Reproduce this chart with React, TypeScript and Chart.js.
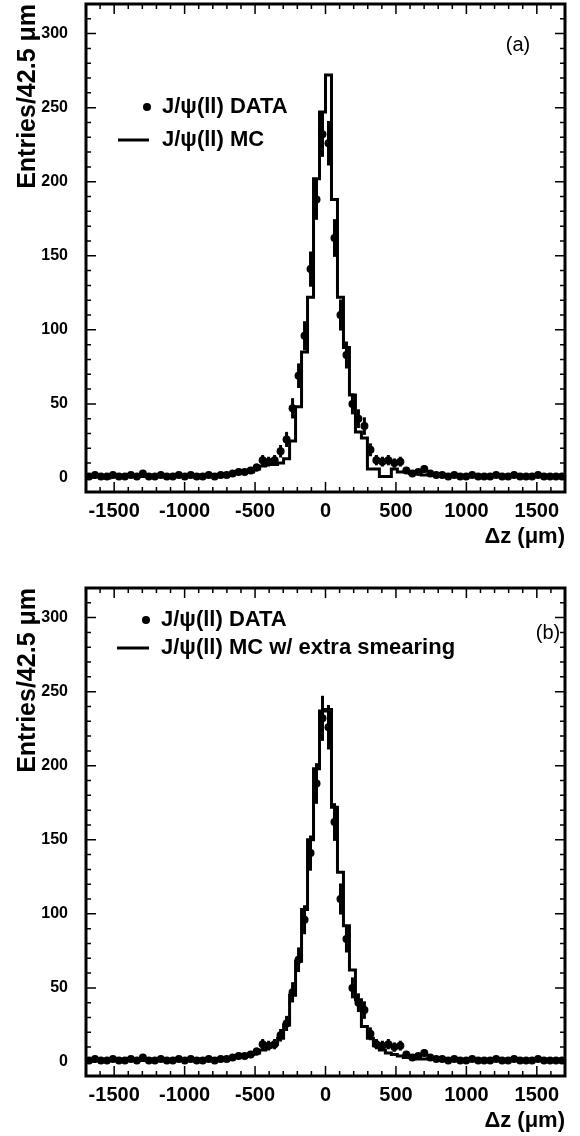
import React, { useEffect, useRef } from 'react';
import { Chart, registerables } from 'chart.js';

Chart.register(...registerables);

const X_MIN = -1700;
const X_MAX = 1700;
const BIN_WIDTH = 42.5;
const Y_MIN = -9.5;
const Y_MAX = 320;

const X_MAJOR_TICKS = [-1500, -1000, -500, 0, 500, 1000, 1500];
const Y_MAJOR_TICKS = [0, 50, 100, 150, 200, 250, 300];

// J/psi(ll) DATA, entries per 42.5 um bin, from -1700 to 1700 um (80 bins)
const dataCounts = [
  1, 2, 1, 1, 2, 1, 1, 2, 1, 3, 1, 1, 2, 1, 1, 2, 1, 2, 1, 1, 2, 1, 2,
  2, 3, 4, 4, 5, 7, 12, 11, 12, 18, 26, 47, 69, 96, 141, 188, 232,
  226, 162, 110, 83, 50, 40, 35, 19, 12, 11, 12, 10, 11, 5, 3, 4, 6, 3, 2,
  2, 1, 2, 1, 1, 2, 1, 1, 1, 2, 1, 1, 2, 1, 1, 1, 2, 1, 1, 1, 1,
];

// J/psi(ll) MC (panel a)
const mcNominal = [
  1, 1, 1, 0, 1, 1, 1, 1, 1, 1, 1, 1, 1, 1, 1, 1, 1, 1, 2, 1, 1, 2, 2,
  2, 3, 3, 4, 4, 6, 8, 9, 9, 10, 13, 25, 48, 85, 122, 202, 247,
  272, 188, 122, 88, 56, 31, 27, 6, 6, 1, 1, 6, 4, 4, 3, 3, 2, 2,
  2, 1, 1, 1, 1, 1, 1, 1, 1, 1, 1, 1, 1, 1, 1, 1, 1, 1, 1, 1, 1, 1,
];

// J/psi(ll) MC w/ extra smearing (panel b)
const mcSmeared = [
  1, 1, 1, 1, 1, 1, 1, 1, 1, 1, 1, 1, 1, 1, 1, 1, 1, 1, 1, 2, 2, 2, 2,
  2, 3, 3, 4, 5, 6, 8, 10, 12, 16, 25, 45, 68, 103, 150, 198, 237,
  238, 172, 128, 92, 62, 42, 24, 16, 11, 8, 6, 5, 4, 3, 3, 2, 2, 2,
  2, 2, 1, 1, 1, 1, 1, 1, 1, 1, 1, 1, 1, 1, 1, 1, 1, 1, 1, 1, 1, 1,
];

const FONT = "'Liberation Sans', Arial, Helvetica, sans-serif";

const decorPlugin = {
  id: 'histDecor',
  beforeDatasetsDraw(chart: any) {
    const { ctx, chartArea, scales } = chart;
    const xs = scales.x;
    const ys = scales.y;
    ctx.save();
    ctx.beginPath();
    ctx.rect(chartArea.left, chartArea.top, chartArea.right - chartArea.left, chartArea.bottom - chartArea.top);
    ctx.clip();
    ctx.strokeStyle = '#000';
    ctx.lineWidth = 3;
    dataCounts.forEach((v, i) => {
      if (v <= 0) return;
      const e = Math.sqrt(v);
      const x = xs.getPixelForValue(X_MIN + (i + 0.5) * BIN_WIDTH);
      ctx.beginPath();
      ctx.moveTo(x, ys.getPixelForValue(v - e));
      ctx.lineTo(x, ys.getPixelForValue(v + e));
      ctx.stroke();
    });
    ctx.restore();
  },
  afterDraw(chart: any, _args: any, opts: any) {
    const { ctx, chartArea, scales } = chart;
    const xs = scales.x;
    const ys = scales.y;
    const { left, right, top, bottom } = chartArea;
    ctx.save();
    ctx.strokeStyle = '#000';
    ctx.lineWidth = 1.5;
    for (let v = -1700; v <= 1700; v += 100) {
      const px = xs.getPixelForValue(v);
      const len = v % 500 === 0 ? 10 : 5;
      ctx.beginPath();
      ctx.moveTo(px, bottom);
      ctx.lineTo(px, bottom - len);
      ctx.moveTo(px, top);
      ctx.lineTo(px, top + len);
      ctx.stroke();
    }
    for (let v = 0; v <= 320; v += 10) {
      const py = ys.getPixelForValue(v);
      const len = v % 50 === 0 ? 10 : 5;
      ctx.beginPath();
      ctx.moveTo(left, py);
      ctx.lineTo(left + len, py);
      ctx.moveTo(right, py);
      ctx.lineTo(right - len, py);
      ctx.stroke();
    }
    ctx.lineWidth = 3;
    ctx.strokeRect(left, top, right - left, bottom - top);

    ctx.fillStyle = '#000';
    ctx.font = `bold 22px ${FONT}`;
    ctx.textBaseline = 'middle';
    ctx.textAlign = 'left';
    const L = opts.legend;
    ctx.beginPath();
    ctx.arc(L.dotX, L.row1, 4, 0, Math.PI * 2);
    ctx.fill();
    ctx.fillText(L.text1, L.textX, L.row1);
    ctx.lineWidth = 3;
    ctx.beginPath();
    ctx.moveTo(L.lineX1, L.row2);
    ctx.lineTo(L.lineX2, L.row2);
    ctx.stroke();
    ctx.fillText(L.text2, L.textX, L.row2);

    ctx.font = `20px ${FONT}`;
    ctx.textAlign = 'center';
    ctx.fillText(opts.label.text, opts.label.x, opts.label.y);
    ctx.restore();
  },
};

function makeConfig(mc: number[], panel: any) {
  const points = dataCounts.map((v, i) => ({ x: X_MIN + (i + 0.5) * BIN_WIDTH, y: v }));
  const steps = mc.map((v, i) => ({ x: X_MIN + i * BIN_WIDTH, y: v }));
  steps.push({ x: X_MAX, y: mc[mc.length - 1] });
  return {
    type: 'scatter',
    data: {
      datasets: [
        {
          type: 'line',
          data: steps,
          borderColor: '#000',
          borderWidth: 3,
          stepped: 'before',
          pointRadius: 0,
          fill: false,
          tension: 0,
          borderJoinStyle: 'miter',
        },
        {
          type: 'scatter',
          data: points,
          backgroundColor: '#000',
          borderColor: '#000',
          pointRadius: 4,
          pointBorderWidth: 0,
        },
      ],
    },
    plugins: [decorPlugin],
    options: {
      animation: false,
      responsive: false,
      events: [],
      layout: { padding: { top: 3, right: 15, left: 0, bottom: panel.bottomPad } },
      plugins: {
        legend: { display: false },
        tooltip: { enabled: false },
        histDecor: { legend: panel.legend, label: panel.label },
      },
      scales: {
        x: {
          type: 'linear',
          min: X_MIN,
          max: X_MAX,
          grid: { display: false, drawTicks: false },
          border: { display: false },
          afterFit: (s: any) => {
            s.height = 60;
            s.paddingLeft = 0;
            s.paddingRight = 0;
          },
          afterBuildTicks: (s: any) => { s.ticks = X_MAJOR_TICKS.map((v) => ({ value: v })); },
          ticks: {
            callback: (v: any) => String(v),
            font: { family: FONT, weight: 'bold', size: 20 },
            color: '#000',
            padding: 7,
            autoSkip: false,
            maxRotation: 0,
          },
          title: {
            display: true,
            text: 'Δz (μm)',
            align: 'end',
            color: '#000',
            font: { family: FONT, weight: 'bold', size: 22 },
            padding: { top: 0, bottom: 2 },
          },
        },
        y: {
          type: 'linear',
          min: Y_MIN,
          max: Y_MAX,
          grid: { display: false, drawTicks: false },
          border: { display: false },
          afterFit: (s: any) => {
            s.width = 86;
            s.paddingTop = 0;
            s.paddingBottom = 0;
          },
          afterBuildTicks: (s: any) => { s.ticks = Y_MAJOR_TICKS.map((v) => ({ value: v })); },
          ticks: {
            callback: (v: any) => String(v),
            font: { family: FONT, weight: 'bold', size: 16 },
            color: '#000',
            padding: 18,
            autoSkip: false,
          },
          title: {
            display: true,
            text: 'Entries/42.5 μm',
            align: 'end',
            color: '#000',
            font: { family: FONT, weight: 'bold', size: 25 },
            padding: { top: 13, bottom: 0 },
          },
        },
      },
    },
  };
}

const panelA = {
  bottomPad: 32,
  legend: {
    dotX: 147, row1: 107, row2: 140, textX: 162, lineX1: 118, lineX2: 149,
    text1: 'J/ψ(ll) DATA', text2: 'J/ψ(ll) MC',
  },
  label: { text: '(a)', x: 518, y: 45 },
};

const panelB = {
  bottomPad: 0,
  legend: {
    dotX: 146, row1: 36, row2: 64, textX: 161, lineX1: 117, lineX2: 149,
    text1: 'J/ψ(ll) DATA', text2: 'J/ψ(ll) MC w/ extra smearing',
  },
  label: { text: '(b)', x: 548, y: 49 },
};

function Panel({ mc, panel, top, height }: any) {
  const ref = useRef<HTMLCanvasElement | null>(null);
  useEffect(() => {
    if (!ref.current) return;
    const chart = new Chart(ref.current, makeConfig(mc, panel) as any);
    return () => chart.destroy();
  }, []);
  return (
    <canvas
      ref={ref}
      width={580}
      height={height}
      style={{ position: 'absolute', left: 0, top, width: 580, height, display: 'block' }}
    />
  );
}

export default function App() {
  return (
    <div style={{ position: 'absolute', left: 0, top: 0, width: 580, height: 1136, background: '#fff' }}>
      <Panel mc={mcNominal} panel={panelA} top={0} height={584} />
      <Panel mc={mcSmeared} panel={panelB} top={584} height={552} />
    </div>
  );
}
